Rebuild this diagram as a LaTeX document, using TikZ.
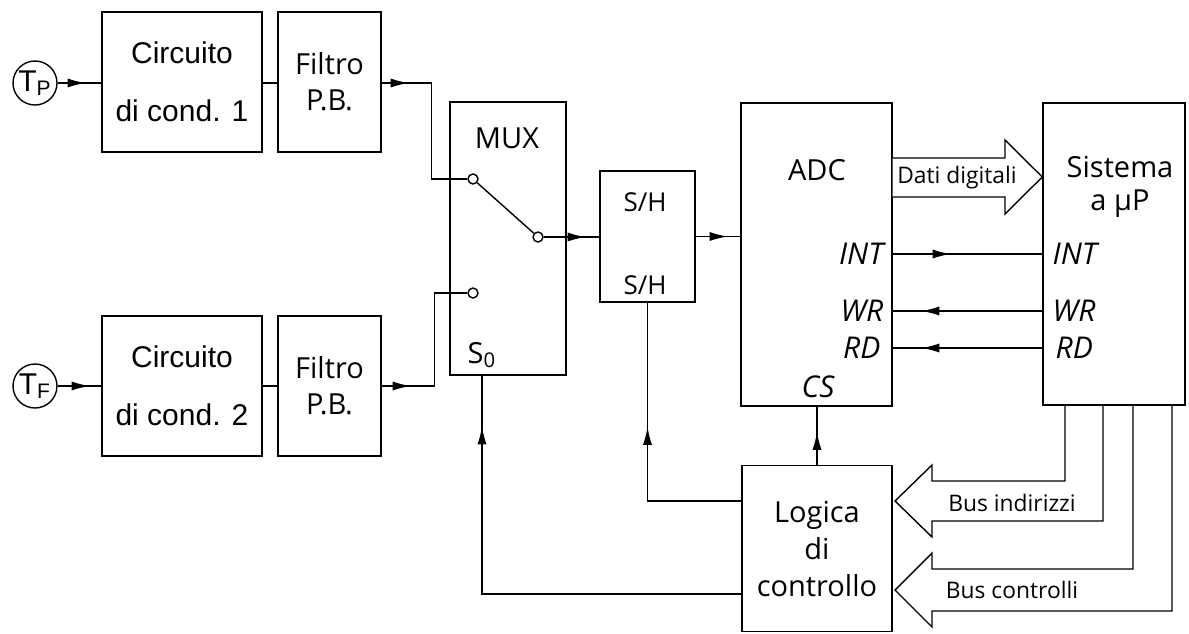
\documentclass[tikz,border=0pt]{standalone}
\usepackage{fontspec}
\setmainfont{Open Sans}
\newfontfamily\arialfont{Liberation Sans}
\usetikzlibrary{arrows.meta,decorations.markings}

\tikzset{
  blk/.style={draw, inner sep=0pt, align=center},
  pin/.style={circle, draw, fill=white, inner sep=0pt, minimum size=5pt},
  probe/.style={circle, draw, minimum size=22pt, inner sep=0pt, font=\arialfont\fontsize{15}{15}\selectfont},
  lbl/.style={inner sep=0pt},
  sig/.style={lbl, font=\itshape\fontsize{15}{16}\selectfont},
  bus/.style={lbl, font=\fontsize{11.4}{12}\selectfont},
  tipat/.style={postaction={decorate}, decoration={markings,
      mark=at position #1 with {\arrow{Latex[length=9pt,width=4.5pt]}}}},
}

\begin{document}
\begin{tikzpicture}[x=0.5pt, y=-0.5pt, line width=0.7pt, font=\fontsize{14.5}{17}\selectfont]
  \useasboundingbox (0,0) rectangle (1189,633);
  % sensors and conditioning
  \node[probe] (TP) at (35,83) {T\textsubscript{P}};
  \node[probe] (TF) at (35,386) {T\textsubscript{F}};
  \node[blk, minimum width=80pt, minimum height=70pt, font=\arialfont\fontsize{15}{29}\selectfont] (C1) at (182,82) {Circuito\\di cond. 1};
  \node[blk, minimum width=80pt, minimum height=70pt, font=\arialfont\fontsize{15}{29}\selectfont] (C2) at (182,386) {Circuito\\di cond. 2};
  \node[blk, minimum width=51.5pt, minimum height=70pt, font=\fontsize{14.5}{18}\selectfont] (F1) at (329.5,82) {Filtro\\P.B.};
  \node[blk, minimum width=51.5pt, minimum height=70pt, font=\fontsize{14.5}{18}\selectfont] (F2) at (329.5,386) {Filtro\\P.B.};
  % multiplexer
  \node[blk, minimum width=58pt, minimum height=136.5pt] (MUX) at (508,238.5) {};
  \node[lbl] (muxl) at (507,138) {MUX};
  \node[lbl] (s0) at (482,355) {S\textsubscript{0}};
  \node[pin] (p1) at (473,179) {};
  \node[pin] (p2) at (538,237) {};
  \node[pin] (p3) at (473,293) {};
  % sample and hold
  \node[blk, minimum width=47.5pt, minimum height=65.5pt] (SH) at (647.5,236.5) {};
  \node[lbl, font=\fontsize{13}{16}\selectfont] (shl) at (645,202) {S/H};
  \node[lbl, font=\fontsize{13}{16}\selectfont] (shc) at (645,285) {S/H};
  % converter
  \node[blk, minimum width=75.5pt, minimum height=151.5pt] (ADC) at (816.5,254.5) {};
  \node[lbl] (adcl) at (817,170) {ADC};
  \node[sig, anchor=east] (intA) at (884,254) {INT};
  \node[sig, anchor=east] (wrA) at (884,311) {WR};
  \node[sig, anchor=east] (rdA) at (881,348) {RD};
  \node[sig] (csA) at (818,387) {CS};
  % microprocessor system
  \node[blk, minimum width=71pt, minimum height=151pt] (SYS) at (1114,254) {};
  \node[lbl, align=center, font=\fontsize{14.5}{16.5}\selectfont] (sysl) at (1120,187) {Sistema\\a μP};
  \node[sig, anchor=west] (intS) at (1052,254) {INT};
  \node[sig, anchor=west] (wrS) at (1052,311) {WR};
  \node[sig, anchor=west] (rdS) at (1055,348) {RD};
  % control logic
  \node[blk, minimum width=75pt, minimum height=83pt, font=\fontsize{14.5}{18.5}\selectfont] (LG) at (817,548.5) {Logica\\di\\controllo};

  % signal path
  \draw[tipat=14pt] (TP) -- (C1.west |- TP);
  \draw[tipat=16pt] (TF) -- (C2);
  \draw (C1.east |- TP) -- (F1.west |- TP);
  \draw (C2) -- (F2);
  \draw[tipat=13.5pt] (F1.east |- TP) -- ++(50,0) |- (p1);
  \draw[tipat=14.5pt] (F2.east) -- ++(53,0) |- (p3);
  \draw (p1) -- (p2);
  \draw[tipat=21pt] (p2) -- (SH.west |- p2);
  \draw[tipat=16pt] (SH) -- (ADC.west |- SH);
  % handshake lines
  \draw[tipat=29pt] (ADC.east |- intA) -- (SYS.west |- intA);
  \draw[tipat=60.5pt] (SYS.west |- wrA) -- (ADC.east |- wrA);
  \draw[tipat=60.5pt] (SYS.west |- rdA) -- (ADC.east |- rdA);
  % control lines
  \draw[tipat=16.5pt] (LG.north) -- (LG.north |- ADC.south);
  \draw[tipat=84pt] (LG.west |- 0,501) -- (SH.south |- 0,501) -- (SH.south);
  \draw[tipat=213.5pt] (LG.west |- 0,594) -- (s0 |- 0,594) -- (s0 |- MUX.south);

  % buses
  \draw[fill=white] (ADC.east |- 0,158) -- (1005,158) -- (1005,140) -- (SYS.west |- 0,177)
    -- (1005,214) -- (1005,197) -- (ADC.east |- 0,197);
  \node[bus] (dati) at (957,178) {Dati digitali};
  \draw (SYS.south -| 1065,0) -- (1065,481) -- (932,481) -- (932,465) -- (895,501)
    -- (932,537) -- (932,521) -- (1103,521) -- (SYS.south -| 1103,0);
  \node[bus] (busi) at (1012,503) {Bus indirizzi};
  \draw (SYS.south -| 1133,0) -- (1133,569) -- (932,569) -- (932,553) -- (895,590)
    -- (932,627) -- (932,611) -- (1172,611) -- (SYS.south -| 1172,0);
  \node[bus] (busc) at (1012,590) {Bus controlli};
\end{tikzpicture}
\end{document}
